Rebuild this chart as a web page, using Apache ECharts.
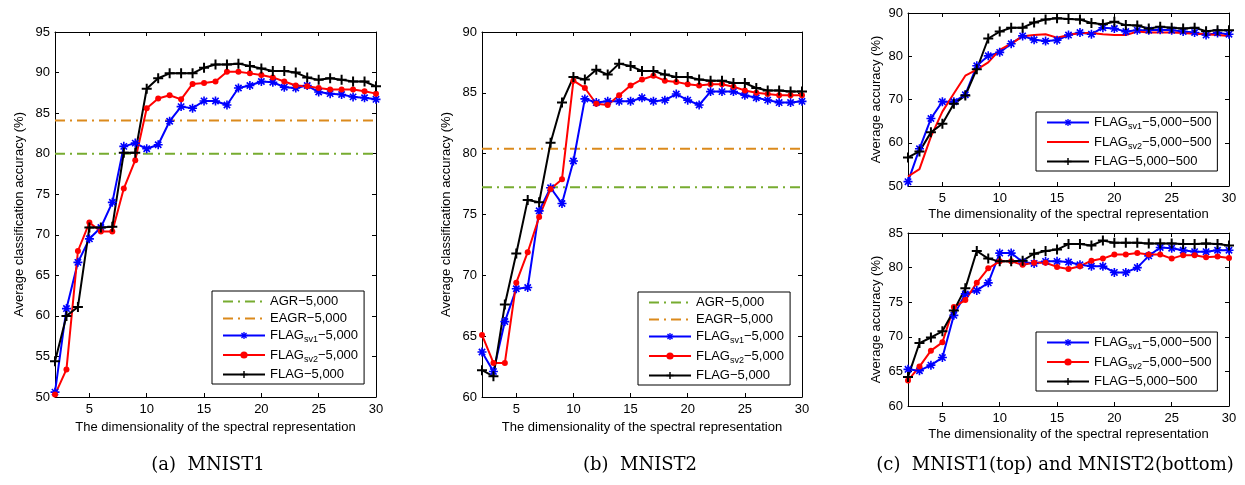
<!DOCTYPE html>
<html>
<head>
<meta charset="utf-8">
<script src="https://cdn.jsdelivr.net/npm/echarts@6/dist/echarts.min.js"></script>
<style>
  html, body { margin: 0; padding: 0; background: #fff; }
  #chart { width: 1245px; height: 485px; }
</style>
</head>
<body>
<div id="chart"></div>
<script>
// dimensionality of the spectral representation
const dims = [2, 3, 4, 5, 6, 7, 8, 9, 10, 11, 12, 13, 14, 15, 16, 17, 18, 19, 20, 21, 22, 23, 24, 25, 26, 27, 28, 29, 30];

// (a) MNIST1
const aSv1 = [50.6, 60.9, 66.6, 69.5, 70.9, 74.0, 80.9, 81.3, 80.6, 81.1, 84.0, 85.8, 85.6, 86.5, 86.5, 86.0, 88.1, 88.4, 88.9, 88.8, 88.2, 88.1, 88.4, 87.6, 87.4, 87.3, 87.0, 86.9, 86.7];
const aSv2 = [50.3, 53.4, 68.0, 71.5, 70.4, 70.4, 75.7, 79.2, 85.6, 86.8, 87.2, 86.7, 88.6, 88.7, 88.9, 90.1, 90.1, 89.9, 89.7, 89.4, 88.9, 88.4, 88.3, 88.1, 87.9, 87.9, 87.9, 87.7, 87.4];
const aFlag = [54.4, 60.0, 61.1, 70.9, 70.9, 71.0, 80.1, 80.1, 88.0, 89.3, 89.9, 89.9, 89.9, 90.6, 91.0, 91.0, 91.1, 90.8, 90.5, 90.2, 90.2, 90.0, 89.4, 89.1, 89.3, 89.1, 88.9, 88.9, 88.3];
const aAgr = 80.0;
const aEagr = 84.1;

// (b) MNIST2
const bSv1 = [63.7, 62.1, 66.2, 68.9, 69.0, 75.3, 77.2, 75.9, 79.4, 84.5, 84.2, 84.3, 84.3, 84.3, 84.6, 84.3, 84.4, 84.9, 84.4, 84.0, 85.1, 85.1, 85.1, 84.8, 84.6, 84.4, 84.2, 84.2, 84.3];
const bSv2 = [65.1, 62.8, 62.8, 69.4, 71.9, 74.8, 77.1, 77.9, 86.0, 85.4, 84.1, 84.0, 84.8, 85.6, 86.1, 86.4, 86.0, 85.9, 85.7, 85.6, 85.7, 85.7, 85.5, 85.2, 85.0, 84.9, 84.8, 84.8, 84.8];
const bFlag = [62.2, 61.7, 67.6, 71.8, 76.2, 76.0, 80.9, 84.2, 86.3, 86.1, 86.9, 86.5, 87.4, 87.2, 86.8, 86.8, 86.5, 86.3, 86.3, 86.1, 86.0, 86.0, 85.8, 85.8, 85.4, 85.2, 85.2, 85.1, 85.1];
const bAgr = 77.25;
const bEagr = 80.4;

// (c) top: MNIST1, 5,000-500
const cTopSv1 = [51.0, 58.6, 65.6, 69.5, 69.5, 71.1, 77.8, 80.1, 80.9, 82.9, 84.7, 83.8, 83.5, 83.7, 84.9, 85.5, 85.1, 86.6, 86.4, 85.7, 86.0, 86.0, 86.1, 86.0, 85.7, 85.5, 84.9, 85.4, 85.1];
const cTopSv2 = [52.2, 53.9, 61.4, 67.2, 71.4, 75.5, 76.9, 78.6, 81.5, 82.9, 84.6, 84.9, 85.1, 84.3, 84.9, 85.4, 85.4, 85.1, 84.9, 84.9, 85.7, 85.5, 85.5, 85.5, 85.4, 85.2, 85.1, 84.9, 84.7];
const cTopFlag = [56.6, 58.0, 62.4, 64.4, 69.0, 70.9, 77.0, 84.1, 85.7, 86.6, 86.6, 87.8, 88.5, 88.8, 88.6, 88.5, 87.7, 87.4, 88.0, 87.2, 87.1, 86.4, 86.8, 86.6, 86.4, 86.6, 85.8, 86.0, 86.0];

// (c) bottom: MNIST2, 5,000-500
const cBotSv1 = [65.3, 65.1, 65.9, 67.0, 73.1, 76.2, 76.7, 77.8, 82.1, 82.1, 80.8, 80.6, 80.9, 80.9, 80.8, 80.4, 80.2, 80.2, 79.3, 79.3, 80.0, 81.7, 82.9, 82.8, 82.5, 82.3, 82.3, 82.5, 82.5];
const cBotSv2 = [63.7, 65.7, 68.0, 69.2, 74.3, 75.3, 77.8, 79.9, 80.9, 80.9, 80.4, 80.7, 80.7, 80.1, 79.8, 80.2, 81.0, 81.3, 81.9, 81.9, 82.1, 81.9, 81.9, 81.3, 81.8, 81.8, 81.5, 81.6, 81.4];
const cBotFlag = [64.2, 69.1, 69.9, 70.8, 73.8, 77.0, 82.4, 81.3, 80.9, 80.9, 81.0, 82.0, 82.4, 82.6, 83.4, 83.4, 83.2, 83.9, 83.6, 83.6, 83.6, 83.5, 83.5, 83.5, 83.4, 83.4, 83.5, 83.4, 83.2];

const xTicks = [5, 10, 15, 20, 25, 30];

const FONT = 'Liberation Sans, Arial, sans-serif';
const SERIF = 'DejaVu Serif, Liberation Serif, serif';

// marker shapes (MATLAB style '+', '*', '.')
const PLUS = 'path://M-1,-5L1,-5L1,5L-1,5Z M-5,-1L5,-1L5,1L-5,1Z';
const STAR = 'path://M-5,-0.9L5,-0.9L5,0.9L-5,0.9Z M-0.9,-5L0.9,-5L0.9,5L-0.9,5Z ' +
  'M-2.86,-4.14L4.14,2.86L2.86,4.14L-4.14,-2.86Z M4.14,-2.86L-2.86,4.14L-4.14,2.86L2.86,-4.14Z';

const chart = echarts.init(document.getElementById('chart'));

function pairs(vals) {
  return dims.map((d, i) => [d, vals[i]]);
}
function flat(v) {
  return dims.map(d => [d, v]);
}

// one MATLAB-like box axes
const grids = [];
const xAxes = [];
const yAxes = [];
function addAxes(rect, ymin, ymax, yint, yName, nameGapY) {
  const gi = grids.length;
  grids.push(Object.assign({ containLabel: false }, rect));
  const tickCommon = { inside: true, length: 4, lineStyle: { color: '#000' } };
  const lineCommon = { show: true, onZero: false, lineStyle: { color: '#000', width: 1 } };
  xAxes.push({
    gridIndex: gi, type: 'value', min: 2, max: 30, position: 'bottom',
    axisLine: lineCommon,
    axisTick: Object.assign({ customValues: xTicks }, tickCommon),
    axisLabel: { customValues: xTicks, color: '#000', fontSize: 13, fontFamily: FONT, margin: 6 },
    splitLine: { show: false },
    name: 'The dimensionality of the spectral representation',
    nameLocation: 'middle', nameGap: 22,
    nameTextStyle: { color: '#000', fontSize: 13, fontFamily: FONT }
  });
  xAxes.push({
    gridIndex: gi, type: 'value', min: 2, max: 30, position: 'top',
    axisLine: lineCommon,
    axisTick: Object.assign({ customValues: xTicks }, tickCommon),
    axisLabel: { show: false }, splitLine: { show: false }
  });
  yAxes.push({
    gridIndex: gi, type: 'value', min: ymin, max: ymax, interval: yint, position: 'left',
    axisLine: lineCommon, axisTick: tickCommon,
    axisLabel: { color: '#000', fontSize: 13, fontFamily: FONT, margin: 5 },
    splitLine: { show: false },
    name: yName, nameLocation: 'middle', nameGap: nameGapY,
    nameTextStyle: { color: '#000', fontSize: 13, fontFamily: FONT }
  });
  yAxes.push({
    gridIndex: gi, type: 'value', min: ymin, max: ymax, interval: yint, position: 'right',
    axisLine: lineCommon, axisTick: tickCommon,
    axisLabel: { show: false }, splitLine: { show: false }
  });
  return gi;
}

const gA = addAxes({ left: 55, top: 32, width: 321, height: 365 }, 50, 95, 5, 'Average classification accuracy (%)', 29);
const gB = addAxes({ left: 482, top: 32, width: 320, height: 365 }, 60, 90, 5, 'Average classification accuracy (%)', 29);
const gCT = addAxes({ left: 908, top: 13, width: 321, height: 173 }, 50, 90, 10, 'Average accuracy (%)', 25);
const gCB = addAxes({ left: 908, top: 233, width: 321, height: 173 }, 60, 85, 5, 'Average accuracy (%)', 25);

const series = [];
function line(g, name, vals, color, symbol, size) {
  series.push({
    type: 'line', name: name, xAxisIndex: g * 2, yAxisIndex: g * 2,
    data: pairs(vals), color: color,
    symbol: symbol || 'none', symbolSize: size || 0, showSymbol: !!symbol,
    lineStyle: { color: color, width: 2 },
    itemStyle: { color: color },
    animation: false, z: 3
  });
}
function hline(g, name, v, color) {
  series.push({
    type: 'line', name: name, xAxisIndex: g * 2, yAxisIndex: g * 2,
    data: flat(v), symbol: 'none', showSymbol: false, color: color,
    lineStyle: { color: color, width: 2, type: [10, 5, 2, 5] },
    itemStyle: { color: color },
    animation: false, z: 2
  });
}

const GREEN = '#77ac30';
const ORANGE = '#db8a1c';

hline(gA, 'AGR−5,000', aAgr, GREEN);
hline(gA, 'EAGR−5,000', aEagr, ORANGE);
line(gA, 'FLAGsv1−5,000', aSv1, '#0000ff', STAR, 9);
line(gA, 'FLAGsv2−5,000', aSv2, '#ff0000', 'circle', 6);
line(gA, 'FLAG−5,000', aFlag, '#000000', PLUS, 10);

hline(gB, 'AGR−5,000', bAgr, GREEN);
hline(gB, 'EAGR−5,000', bEagr, ORANGE);
line(gB, 'FLAGsv1−5,000', bSv1, '#0000ff', STAR, 9);
line(gB, 'FLAGsv2−5,000', bSv2, '#ff0000', 'circle', 6);
line(gB, 'FLAG−5,000', bFlag, '#000000', PLUS, 10);

line(gCT, 'FLAGsv1−5,000−500', cTopSv1, '#0000ff', STAR, 9);
line(gCT, 'FLAGsv2−5,000−500 ', cTopSv2, '#ff0000', null, 0);
line(gCT, 'FLAG−5,000−500', cTopFlag, '#000000', PLUS, 10);

line(gCB, 'FLAGsv1−5,000−500', cBotSv1, '#0000ff', STAR, 9);
line(gCB, 'FLAGsv2−5,000−500', cBotSv2, '#ff0000', 'circle', 6);
line(gCB, 'FLAG−5,000−500', cBotFlag, '#000000', PLUS, 10);

function legendFmt(name) {
  const m = name.trim().match(/^FLAG(sv\d)(.*)$/);
  if (m) return '{t|FLAG}{s|' + m[1] + '}{t|' + m[2] + '}';
  return '{t|' + name.trim() + '}';
}
// legend entries; plain ones are drawn as a line without marker
function entry(name, plain) {
  if (!plain) return { name: name };
  return { name: name, itemStyle: { color: 'rgba(0,0,0,0)', borderWidth: 0 } };
}
function legend(items, left, top) {
  return {
    data: items, left: left, top: top, orient: 'vertical',
    itemWidth: 42, itemHeight: 9, itemGap: 4,
    backgroundColor: '#fff', borderColor: '#000', borderWidth: 1, borderRadius: 0,
    padding: [4, 6, 3, 10],
    selectedMode: false,
    formatter: legendFmt,
    textStyle: {
      color: '#000',
      rich: {
        t: { fontSize: 13, fontFamily: FONT, color: '#000' },
        s: { fontSize: 9, fontFamily: FONT, color: '#000', padding: [9, 0, 0, 0] }
      }
    }
  };
}

const legAB = [
  entry('AGR−5,000', true), entry('EAGR−5,000', true),
  entry('FLAGsv1−5,000'), entry('FLAGsv2−5,000'), entry('FLAG−5,000')
];

const option = {
  animation: false,
  backgroundColor: '#fff',
  grid: grids,
  xAxis: xAxes,
  yAxis: yAxes,
  legend: [
    legend(legAB, 212, 291),
    legend(legAB, 638, 292),
    legend([entry('FLAGsv1−5,000−500'), entry('FLAGsv2−5,000−500 ', true), entry('FLAG−5,000−500')], 1036, 112),
    legend([entry('FLAGsv1−5,000−500'), entry('FLAGsv2−5,000−500'), entry('FLAG−5,000−500')], 1036, 332)
  ],
  series: series,
  graphic: [
    { type: 'text', x: 208, y: 465, style: { text: '(a)  MNIST1', font: '18px ' + SERIF, fill: '#000', textAlign: 'center', textVerticalAlign: 'middle' } },
    { type: 'text', x: 640, y: 465, style: { text: '(b)  MNIST2', font: '18px ' + SERIF, fill: '#000', textAlign: 'center', textVerticalAlign: 'middle' } },
    { type: 'text', x: 1055, y: 465, style: { text: '(c)  MNIST1(top) and MNIST2(bottom)', font: '18px ' + SERIF, fill: '#000', textAlign: 'center', textVerticalAlign: 'middle' } }
  ]
};

chart.setOption(option);
</script>
</body>
</html>
